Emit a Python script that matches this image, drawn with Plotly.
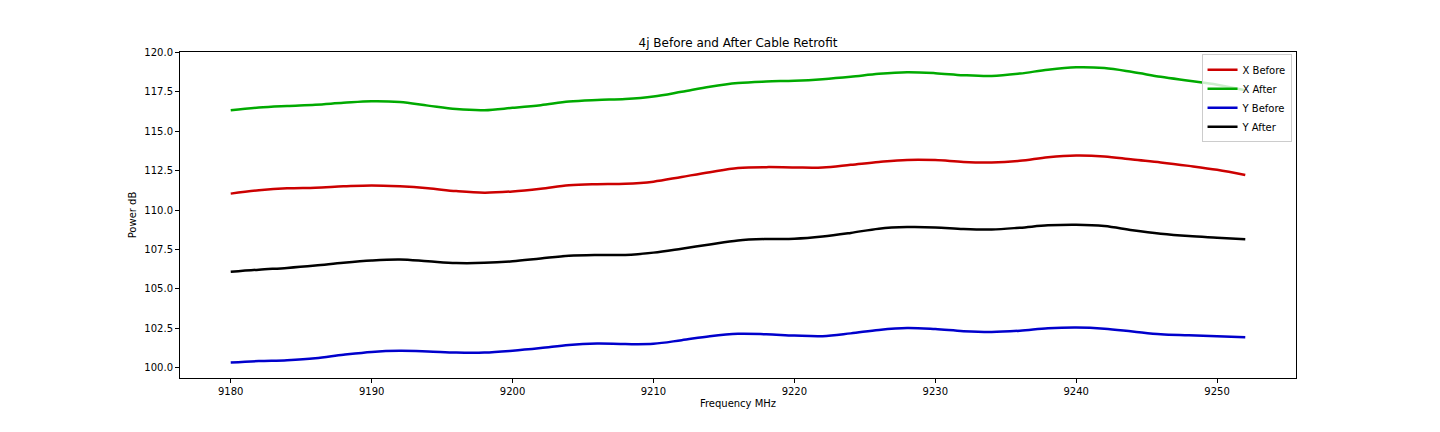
import plotly.graph_objects as go

# 频率 (MHz)
freq = list(range(9180, 9253, 2))

# 各曲线功率 (dB)
x_before = [111.04, 111.25, 111.38, 111.42, 111.50, 111.56, 111.50, 111.38, 111.20, 111.10,
            111.18, 111.35, 111.57, 111.64, 111.66, 111.80, 112.10, 112.40, 112.66, 112.72,
            112.70, 112.70, 112.87, 113.05, 113.18, 113.17, 113.05, 113.02, 113.12, 113.35,
            113.46, 113.40, 113.20, 113.02, 112.80, 112.55, 112.22]
x_after = [116.32, 116.50, 116.60, 116.68, 116.80, 116.90, 116.85, 116.62, 116.40, 116.33,
           116.48, 116.65, 116.88, 116.98, 117.04, 117.20, 117.50, 117.82, 118.05, 118.15,
           118.20, 118.30, 118.45, 118.64, 118.74, 118.68, 118.55, 118.50, 118.65, 118.90,
           119.05, 119.00, 118.75, 118.45, 118.20, 117.95, 117.59]
y_before = [100.33, 100.42, 100.48, 100.60, 100.82, 101.00, 101.07, 101.03, 100.96, 100.96,
            101.08, 101.25, 101.45, 101.53, 101.50, 101.52, 101.75, 102.00, 102.15, 102.12,
            102.04, 102.00, 102.18, 102.40, 102.52, 102.45, 102.32, 102.27, 102.35, 102.50,
            102.55, 102.48, 102.30, 102.12, 102.06, 102.00, 101.94]
y_after = [106.08, 106.22, 106.33, 106.48, 106.66, 106.80, 106.86, 106.75, 106.64, 106.65,
           106.75, 106.93, 107.10, 107.15, 107.15, 107.30, 107.55, 107.82, 108.07, 108.16,
           108.18, 108.32, 108.55, 108.82, 108.92, 108.90, 108.80, 108.77, 108.88, 109.03,
           109.07, 108.99, 108.72, 108.50, 108.35, 108.25, 108.15]

series = [
    ("X Before", x_before, "#cc0000"),
    ("X After", x_after, "#00aa00"),
    ("Y Before", y_before, "#0000cc"),
    ("Y After", y_after, "#000000"),
]

fig = go.Figure()

for name, vals, color in series:
    fig.add_trace(go.Scatter(
        x=freq,
        y=vals,
        mode="lines",
        name=name,
        line=dict(color=color, width=2.5, shape="spline"),
    ))

axis_style = dict(
    showline=True,
    linecolor="black",
    linewidth=1,
    mirror=True,
    ticks="outside",
    ticklen=4,
    tickcolor="black",
    showgrid=False,
    zeroline=False,
    tickfont=dict(size=10, color="black"),
)

# 页面有 8px 的边距，这里把边距减掉 8 来对齐
fig.update_layout(
    width=1440,
    height=432,
    paper_bgcolor="white",
    plot_bgcolor="white",
    font=dict(family="DejaVu Sans", size=10, color="black"),
    title=dict(text="4j Before and After Cable Retrofit", x=0.5, xref="paper", xanchor="center",
               y=1, yref="paper", yanchor="bottom", pad=dict(b=5), font=dict(size=12)),
    margin=dict(l=172, r=152, t=44, b=62),
    showlegend=True,
    legend=dict(
        x=0.996, y=0.993, xanchor="right", yanchor="top",
        bgcolor="rgba(255,255,255,0.8)",
        bordercolor="#cccccc",
        borderwidth=1,
        font=dict(size=10),
        tracegroupgap=0,
        itemwidth=30,
    ),
    xaxis=dict(
        title=dict(text="Frequency MHz", font=dict(size=10), standoff=3),
        range=[9176.4, 9255.6],
        dtick=10,
        tick0=9180,
        **axis_style,
    ),
    yaxis=dict(
        title=dict(text="Power dB", font=dict(size=10), standoff=5),
        range=[99.35, 120.02],
        dtick=2.5,
        tick0=100,
        tickformat=".1f",
        **axis_style,
    ),
)

fig.write_html("out.html")
